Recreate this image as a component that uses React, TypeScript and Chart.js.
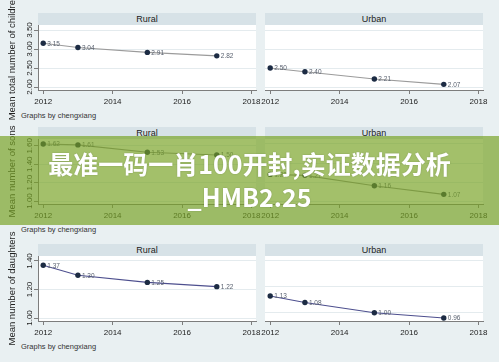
import React, { useEffect, useRef } from 'react';
import { Chart, registerables } from 'chart.js';

Chart.register(...registerables);

// ---------- data ----------
const years = [2012, 2013, 2015, 2017];
const xTickValues = [2012, 2014, 2016, 2018];
const groups = ['Rural', 'Urban'];

const childrenRural = [3.15, 3.04, 2.91, 2.82];
const childrenUrban = [2.5, 2.4, 2.21, 2.07];
const childrenTicks = [2.0, 2.5, 3.0, 3.5];

const sonsRural = [1.62, 1.61, 1.53, 1.5];
const sonsUrban = [1.28, 1.27, 1.16, 1.07];
const sonsTicks = [1.0, 1.2, 1.4, 1.6];

const daughtersRural = [1.37, 1.3, 1.25, 1.22];
const daughtersUrban = [1.13, 1.08, 1.0, 0.96];
const daughtersTicks = [1.0, 1.2, 1.4];

const yTitles = ['Mean total number of children', 'Mean number of sons', 'Mean number of daughters'];
const noteText = 'Graphs by chengxiang';
const bannerLines = ['最准一码一肖100开封,实证数据分析', '_HMB2.25'];

// ---------- style ----------
const FONT = '"Liberation Sans", Arial, Helvetica, sans-serif';
const BG = '#e9f0f2';
const STRIP = '#d7e2e7';
const GRID = '#e4ebee';
const AXIS = '#7d7d7d';
const MARKER = '#1c2b43';
const LABEL = '#5a6270';
const lineColors = ['#9b9b9b', '#8a8a8a', '#4d4f8e'];

const rowTops = [0, 114, 231];
const CH_TOP = 25;
const CH_H = 65;
const LEFT_X = 38;
const RIGHT_X = 265;
const CH_W = 218;
const X_MIN = 2011.85;
const X_MAX = 2018.13;

const rows = [
  { title: yTitles[0], ticks: childrenTicks, series: [childrenRural, childrenUrban] },
  { title: yTitles[1], ticks: sonsTicks, series: [sonsRural, sonsUrban] },
  { title: yTitles[2], ticks: daughtersTicks, series: [daughtersRural, daughtersUrban] },
];

const plotBgPlugin = {
  id: 'plotBg',
  beforeDraw(chart: any) {
    const { ctx, chartArea } = chart;
    ctx.save();
    ctx.fillStyle = '#ffffff';
    ctx.fillRect(chartArea.left, chartArea.top, chartArea.right - chartArea.left, chartArea.bottom - chartArea.top);
    ctx.restore();
  },
};

const pointLabelPlugin = {
  id: 'pointLabels',
  afterDatasetsDraw(chart: any) {
    const ctx = chart.ctx;
    ctx.save();
    ctx.font = `6.5px ${FONT}`;
    ctx.fillStyle = LABEL;
    ctx.textAlign = 'left';
    ctx.textBaseline = 'middle';
    chart.data.datasets.forEach((ds: any, i: number) => {
      const meta = chart.getDatasetMeta(i);
      meta.data.forEach((el: any, j: number) => {
        ctx.fillText(Number(ds.data[j].y).toFixed(2), el.x + 4, el.y + 0.5);
      });
    });
    ctx.restore();
  },
};

function makeConfig(values: number[], yTicks: number[], lineColor: string, isLeft: boolean, title: string): any {
  const lo = Math.min(yTicks[0], ...values);
  const hi = Math.max(yTicks[yTicks.length - 1], ...values);
  const span = hi - lo;
  return {
    type: 'line',
    data: {
      datasets: [
        {
          data: years.map((x, i) => ({ x, y: values[i] })),
          borderColor: lineColor,
          borderWidth: 1.1,
          pointRadius: 2.7,
          pointHoverRadius: 2.7,
          pointBackgroundColor: MARKER,
          pointBorderWidth: 0,
          tension: 0,
        },
      ],
    },
    options: {
      responsive: false,
      animation: false,
      events: [],
      layout: {
        padding: isLeft ? { left: 0, top: 35, right: 12, bottom: 15 } : { left: 10, top: 10, right: 12, bottom: 5 },
      },
      plugins: { legend: { display: false }, tooltip: { enabled: false }, title: { display: false } },
      scales: {
        x: {
          type: 'linear',
          min: X_MIN,
          max: X_MAX,
          afterBuildTicks: (s: any) => {
            s.ticks = xTickValues.map((v) => ({ value: v }));
          },
          afterFit: (s: any) => {
            s.height = 20;
          },
          grid: { drawOnChartArea: false, drawTicks: true, tickLength: 4, tickColor: AXIS },
          border: { display: true, color: AXIS, width: 1 },
          ticks: {
            font: { family: FONT, size: 8 },
            color: '#222',
            padding: 3,
            maxRotation: 0,
            minRotation: 0,
            autoSkip: false,
            callback: (v: any) => String(v),
          },
        },
        y: {
          type: 'linear',
          min: lo - (3 / 57) * span,
          max: hi + (5 / 57) * span,
          afterBuildTicks: (s: any) => {
            s.ticks = yTicks.map((v) => ({ value: v }));
          },
          afterFit: (s: any) => {
            s.width = isLeft ? 38 : 0;
          },
          grid: { color: GRID, lineWidth: 1, drawTicks: isLeft, tickLength: 4, tickColor: AXIS },
          border: { display: isLeft, color: AXIS, width: 1 },
          ticks: {
            display: isLeft,
            font: { family: FONT, size: 8 },
            color: '#222',
            minRotation: 90,
            maxRotation: 90,
            crossAlign: 'center',
            padding: -3.6,
            autoSkip: false,
            callback: (v: any) => Number(v).toFixed(2),
          },
          title: {
            display: isLeft,
            text: title,
            font: { family: FONT, size: 9.5 },
            color: '#222',
            padding: { top: 7, bottom: 0 },
          },
        },
      },
    },
    plugins: [plotBgPlugin, pointLabelPlugin],
  };
}

function ChartCanvas({ x, y, w, h, config }: { x: number; y: number; w: number; h: number; config: () => any }) {
  const ref = useRef<HTMLCanvasElement>(null);
  useEffect(() => {
    const chart = new Chart(ref.current as HTMLCanvasElement, config());
    return () => chart.destroy();
  }, []);
  return (
    <canvas
      ref={ref}
      width={w}
      height={h}
      style={{ position: 'absolute', left: x, top: y, width: w, height: h, display: 'block' }}
    />
  );
}

export default function App() {
  const strips: React.ReactNode[] = [];
  const notes: React.ReactNode[] = [];
  const canvases: React.ReactNode[] = [];

  rows.forEach((row, r) => {
    const b = rowTops[r];
    groups.forEach((g, s) => {
      const left = s === 0 ? LEFT_X : RIGHT_X;
      strips.push(
        <div
          key={`strip-${r}-${s}`}
          style={{
            position: 'absolute',
            left,
            top: b + 13,
            width: CH_W,
            height: 12,
            background: STRIP,
            color: '#222',
            font: `9px ${FONT}`,
            lineHeight: '12px',
            textAlign: 'center',
          }}
        >
          {g}
        </div>
      );
      const isLeft = s === 0;
      const values = row.series[s];
      if (isLeft) {
        canvases.push(
          <ChartCanvas
            key={`c-${r}-${s}`}
            x={0}
            y={b - 10}
            w={LEFT_X + CH_W + 12}
            h={135}
            config={() => makeConfig(values, row.ticks, lineColors[r], true, row.title)}
          />
        );
      } else {
        canvases.push(
          <ChartCanvas
            key={`c-${r}-${s}`}
            x={RIGHT_X - 10}
            y={b + CH_TOP - 10}
            w={CH_W + 22}
            h={100}
            config={() => makeConfig(values, row.ticks, lineColors[r], false, row.title)}
          />
        );
      }
    });
    notes.push(
      <div
        key={`note-${r}`}
        style={{
          position: 'absolute',
          left: 21,
          top: b + 111,
          height: 10,
          lineHeight: '10px',
          color: '#333',
          font: `7.5px ${FONT}`,
          whiteSpace: 'nowrap',
        }}
      >
        {noteText}
      </div>
    );
  });

  return (
    <div
      style={{
        position: 'absolute',
        left: 0,
        top: 0,
        width: 499,
        height: 362,
        overflow: 'hidden',
        background: BG,
      }}
    >
      {strips}
      {notes}
      {canvases}
      <div
        style={{
          position: 'absolute',
          left: 0,
          top: 135.5,
          width: 499,
          height: 89.5,
          background: 'rgba(120,162,35,0.68)',
        }}
      />
      {bannerLines.map((t, i) => (
        <div
          key={`banner-${i}`}
          style={{
            position: 'absolute',
            left: 0,
            top: i === 0 ? 144 : 177,
            width: 499,
            height: 38,
            lineHeight: '38px',
            textAlign: 'center',
            color: '#ffffff',
            fontFamily: '"Noto Sans CJK SC", "Noto Sans", sans-serif',
            fontWeight: 700,
            fontSize: 25,
            whiteSpace: 'nowrap',
            textShadow: '0 0 2px rgba(0,0,0,0.2)',
          }}
        >
          {t}
        </div>
      ))}
    </div>
  );
}
